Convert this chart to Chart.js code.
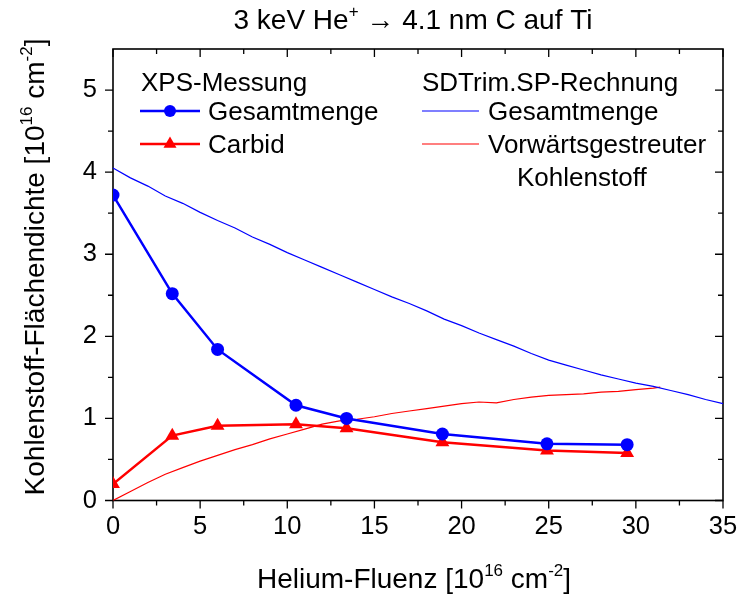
<!DOCTYPE html>
<html>
<head>
<meta charset="utf-8">
<script src="https://cdn.jsdelivr.net/npm/chart.js@4.4.1/dist/chart.umd.min.js"></script>
<style>
  html, body { margin: 0; padding: 0; background: #fff; }
  #wrap { width: 739px; height: 600px; }
</style>
</head>
<body>
<div id="wrap"><canvas id="grafik" width="739" height="600"></canvas></div>
<script>
// XPS-Messung (Messpunkte)
const xpsFluenz = [0, 3.4, 6.0, 10.5, 13.4, 18.9, 24.9, 29.5];
const xpsGesamt = [3.72, 2.52, 1.84, 1.16, 1.00, 0.81, 0.69, 0.68];
const xpsCarbid = [0.20, 0.79, 0.91, 0.93, 0.88, 0.71, 0.61, 0.58];

// SDTrim.SP-Rechnung: Gesamtmenge
const simFluenzGesamt = [0, 1, 2, 3, 4, 5, 6, 7, 8, 9, 10, 11, 12, 13, 14, 15, 16, 17, 18,
  19, 20, 21, 22, 23, 24, 25, 26, 27, 28, 29, 30, 31, 32, 33, 34, 35, 35.6];
const simGesamt = [4.05, 3.93, 3.83, 3.71, 3.62, 3.51, 3.41, 3.32, 3.21, 3.12, 3.02, 2.93,
  2.84, 2.75, 2.66, 2.57, 2.48, 2.40, 2.31, 2.21, 2.13, 2.04, 1.96, 1.88, 1.79, 1.71, 1.65,
  1.59, 1.53, 1.48, 1.43, 1.39, 1.34, 1.29, 1.23, 1.18, 1.15];

// SDTrim.SP-Rechnung: vorwaertsgestreuter Kohlenstoff
const simFluenzVorw = [0, 1, 2, 3, 4, 5, 6, 7, 8, 9, 10, 11, 12, 13, 14, 15, 16, 17, 18,
  19, 20, 21, 22, 23, 24, 25, 26, 27, 28, 29, 30, 31, 31.4];
const simVorw = [0.0, 0.11, 0.22, 0.32, 0.40, 0.48, 0.55, 0.62, 0.68, 0.75, 0.81, 0.87,
  0.93, 0.97, 0.99, 1.02, 1.06, 1.09, 1.12, 1.15, 1.18, 1.20, 1.19, 1.23, 1.26, 1.28, 1.29,
  1.30, 1.32, 1.33, 1.35, 1.37, 1.38];

// Achsenteilung
const xTicks = [0, 5, 10, 15, 20, 25, 30, 35];
const xMinorTicks = [2.5, 7.5, 12.5, 17.5, 22.5, 27.5, 32.5];
const yTicks = [0, 1, 2, 3, 4, 5];
const yMinorTicks = [0.5, 1.5, 2.5, 3.5, 4.5];

const SCHRIFT = "'Liberation Sans', Arial, sans-serif";
const BLAU = '#0000ff';
const ROT = '#ff0000';

function punkte(xs, ys) {
    return xs.map((x, i) => ({ x: x, y: ys[i] }));
}

// Text mit Hochstellungen zeichnen: teile = [[text, hoch?], ...]
function textMitHoch(ctx, teile, x, y, size, align) {
    const klein = Math.round(size * 0.62);
    let breite = 0;
    teile.forEach(([t, hoch]) => {
        ctx.font = (hoch ? klein : size) + 'px ' + SCHRIFT;
        breite += ctx.measureText(t).width;
    });
    let cx = align === 'left' ? x : x - breite / 2;
    ctx.textAlign = 'left';
    ctx.textBaseline = 'alphabetic';
    teile.forEach(([t, hoch]) => {
        ctx.font = (hoch ? klein : size) + 'px ' + SCHRIFT;
        ctx.fillText(t, cx, hoch ? y - size * 0.42 : y);
        cx += ctx.measureText(t).width;
    });
}

// Rahmen mit Haupt- und Nebenstrichen
const rahmenPlugin = {
    id: 'rahmen',
    beforeDatasetsDraw(chart) {
        const { ctx, chartArea: a, scales: { x, y } } = chart;
        ctx.save();
        ctx.strokeStyle = '#000';
        ctx.lineWidth = 1.6;
        ctx.strokeRect(a.left, a.top, a.right - a.left, a.bottom - a.top);
        ctx.lineWidth = 1.3;
        ctx.beginPath();
        const strichX = (v, len) => {
            const px = x.getPixelForValue(v);
            ctx.moveTo(px, a.bottom); ctx.lineTo(px, a.bottom + len);
            ctx.moveTo(px, a.top); ctx.lineTo(px, a.top + len);
        };
        const strichY = (v, len) => {
            const py = y.getPixelForValue(v);
            ctx.moveTo(a.left, py); ctx.lineTo(a.left - len, py);
            ctx.moveTo(a.right, py); ctx.lineTo(a.right - len, py);
        };
        xTicks.forEach(v => strichX(v, 8));
        xMinorTicks.forEach(v => strichX(v, 5));
        yTicks.forEach(v => strichY(v, 8));
        yMinorTicks.forEach(v => strichY(v, 5));
        ctx.stroke();
        ctx.restore();
    },
    afterDraw(chart) {
        const { ctx } = chart;
        ctx.save();
        ctx.fillStyle = '#000';

        // Titel
        textMitHoch(ctx, [['3 keV He', false], ['+', true], [' \u2192 4.1 nm C auf Ti', false]],
            413, 29, 28, 'center');

        // Achsentitel
        textMitHoch(ctx, [['Helium-Fluenz [10', false], ['16', true], [' cm', false], ['-2', true], [']', false]],
            414, 588, 28, 'center');
        ctx.save();
        ctx.translate(44, 267);
        ctx.rotate(-Math.PI / 2);
        textMitHoch(ctx, [['Kohlenstoff-Fl\u00e4chendichte [10', false], ['16', true], [' cm', false], ['-2', true], [']', false]],
            0, 0, 28, 'center');
        ctx.restore();

        // Legende
        const fs = 26;
        textMitHoch(ctx, [['XPS-Messung', false]], 141, 91, fs, 'left');
        textMitHoch(ctx, [['SDTrim.SP-Rechnung', false]], 422, 91, fs, 'left');

        ctx.lineWidth = 2.5;
        ctx.strokeStyle = BLAU; ctx.fillStyle = BLAU;
        ctx.beginPath(); ctx.moveTo(140, 111); ctx.lineTo(200, 111); ctx.stroke();
        ctx.beginPath(); ctx.arc(170, 111, 6, 0, Math.PI * 2); ctx.fill();
        ctx.strokeStyle = ROT; ctx.fillStyle = ROT;
        ctx.beginPath(); ctx.moveTo(140, 144); ctx.lineTo(200, 144); ctx.stroke();
        ctx.beginPath();
        ctx.moveTo(170, 136.5); ctx.lineTo(176.5, 147.8); ctx.lineTo(163.5, 147.8);
        ctx.closePath(); ctx.fill();

        ctx.lineWidth = 1.2;
        ctx.strokeStyle = BLAU;
        ctx.beginPath(); ctx.moveTo(422, 111); ctx.lineTo(479, 111); ctx.stroke();
        ctx.strokeStyle = ROT;
        ctx.beginPath(); ctx.moveTo(422, 144); ctx.lineTo(479, 144); ctx.stroke();

        ctx.fillStyle = '#000';
        textMitHoch(ctx, [['Gesamtmenge', false]], 208, 120, fs, 'left');
        textMitHoch(ctx, [['Carbid', false]], 208, 153, fs, 'left');
        textMitHoch(ctx, [['Gesamtmenge', false]], 488, 120, fs, 'left');
        textMitHoch(ctx, [['Vorw\u00e4rtsgestreuter', false]], 488, 153, fs, 'left');
        textMitHoch(ctx, [['Kohlenstoff', false]], 517, 186, fs, 'left');
        ctx.restore();
    }
};

const ctxGrafik = document.getElementById('grafik');
new Chart(ctxGrafik, {
    type: 'scatter',
    data: {
        datasets: [
            {
                label: 'XPS Gesamtmenge',
                data: punkte(xpsFluenz, xpsGesamt),
                showLine: true,
                borderColor: BLAU,
                backgroundColor: BLAU,
                borderWidth: 2.5,
                pointStyle: 'circle',
                pointRadius: 6.5,
                pointBorderWidth: 0
            },
            {
                label: 'XPS Carbid',
                data: punkte(xpsFluenz, xpsCarbid),
                showLine: true,
                borderColor: ROT,
                backgroundColor: ROT,
                borderWidth: 2.5,
                pointStyle: 'triangle',
                pointRadius: 8,
                pointBorderWidth: 0
            },
            {
                label: 'SDTrim Gesamtmenge',
                data: punkte(simFluenzGesamt, simGesamt),
                showLine: true,
                borderColor: BLAU,
                borderWidth: 1.2,
                pointRadius: 0,
                clip: false // Linie laeuft leicht ueber den rechten Rahmen hinaus
            },
            {
                label: 'SDTrim Vorwaertsgestreuter Kohlenstoff',
                data: punkte(simFluenzVorw, simVorw),
                showLine: true,
                borderColor: ROT,
                borderWidth: 1.2,
                pointRadius: 0
            }
        ]
    },
    options: {
        responsive: false,
        animation: false,
        events: [],
        layout: { padding: { left: 0, right: 16, top: 49, bottom: 0 } },
        plugins: {
            legend: { display: false },
            tooltip: { enabled: false }
        },
        scales: {
            x: {
                type: 'linear',
                min: 0,
                max: 35,
                grid: { display: false, drawTicks: false },
                border: { display: false },
                ticks: {
                    color: '#000',
                    font: { family: SCHRIFT, size: 25.5 },
                    padding: 11,
                    maxRotation: 0,
                    autoSkip: false
                },
                afterBuildTicks: s => { s.ticks = xTicks.map(v => ({ value: v })); },
                afterFit: s => {
                    s.height = 99.5;
                    s.paddingLeft = 0;
                    s.paddingRight = 0;
                }
            },
            y: {
                min: 0,
                max: 5.5,
                grid: { display: false, drawTicks: false },
                border: { display: false },
                ticks: {
                    color: '#000',
                    font: { family: SCHRIFT, size: 25.5 },
                    padding: 16
                },
                afterBuildTicks: s => { s.ticks = yTicks.map(v => ({ value: v })); },
                afterFit: s => {
                    s.width = 113;
                    s.paddingTop = 0;
                    s.paddingBottom = 0;
                }
            }
        }
    },
    plugins: [rahmenPlugin]
});
</script>
</body>
</html>
